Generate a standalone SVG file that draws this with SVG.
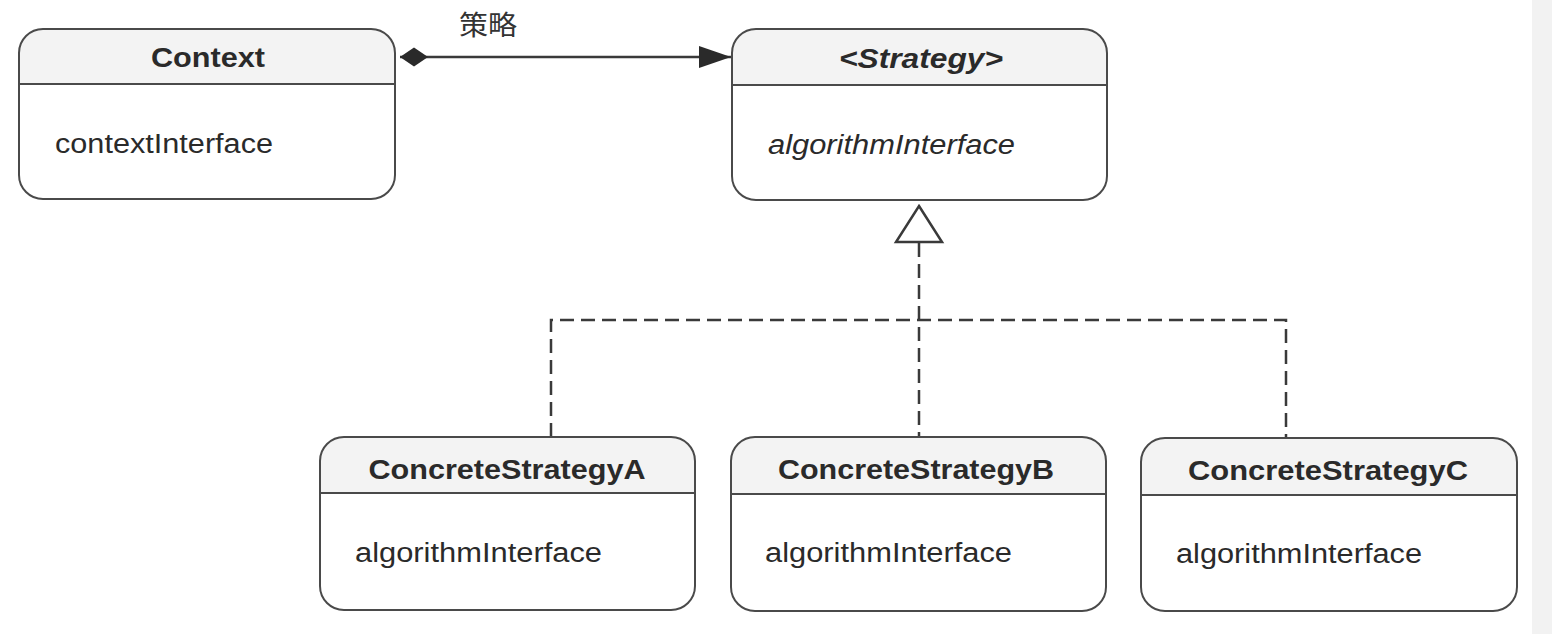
<svg xmlns="http://www.w3.org/2000/svg" width="1552" height="634" viewBox="0 0 1552 634">
<defs>
<style>
.box{fill:none;stroke:#4a4a4a;stroke-width:2}
.hdr{fill:#f3f3f3}
.div{stroke:#4a4a4a;stroke-width:2}
.title{font-family:"Liberation Sans",Arial,sans-serif;font-weight:bold;font-size:27px;fill:#2a2a2a}
.op{font-family:"Liberation Sans",Arial,sans-serif;font-size:27px;fill:#2a2a2a}
.it{font-style:italic}
.dash{fill:none;stroke:#3a3a3a;stroke-width:2.5;stroke-dasharray:14 7}
.solid{fill:none;stroke:#3a3a3a;stroke-width:2.5}
.lbl{font-family:"Noto Sans CJK SC",sans-serif;font-size:27px;fill:#333333}
</style>
<marker id="diamond" viewBox="0 0 30 20" refX="0" refY="10" markerWidth="30" markerHeight="20" markerUnits="userSpaceOnUse" orient="auto">
<path d="M0,10 L14,0.5 L28,10 L14,19.5 Z" fill="#2a2a2a"/>
</marker>
<marker id="arrow" viewBox="0 0 32 22" refX="32" refY="11" markerWidth="32" markerHeight="22" markerUnits="userSpaceOnUse" orient="auto">
<path d="M0,0 L32,11 L0,22 Z" fill="#2a2a2a"/>
</marker>
</defs>
<rect width="1552" height="634" fill="#ffffff"/>
<rect x="1532" y="0" width="20" height="634" fill="#f2f2f2"/>

<g id="connectors">
<path class="solid" d="M400,57 L731,57" marker-start="url(#diamond)" marker-end="url(#arrow)"/>
<text class="lbl" x="459" y="35" textLength="58" lengthAdjust="spacingAndGlyphs">策略</text>
<path class="dash" d="M919,243 L919,437"/>
<path class="dash" d="M551,437 L551,320 L1286,320 L1286,438"/>
<path d="M919,206 L942,242 L896,242 Z" fill="#ffffff" stroke="#3a3a3a" stroke-width="2.5"/>
</g>

<g id="context">
<path class="hdr" d="M43,29 L371,29 A24,24 0 0 1 395,53 L395,84 L19,84 L19,53 A24,24 0 0 1 43,29 Z"/>
<rect class="box" x="19" y="29" width="376" height="170" rx="24"/>
<line class="div" x1="19" y1="84" x2="395" y2="84"/>
<text class="title" x="208" y="67" text-anchor="middle" textLength="114" lengthAdjust="spacingAndGlyphs">Context</text>
<text class="op" x="55" y="153" textLength="218" lengthAdjust="spacingAndGlyphs">contextInterface</text>
</g>

<g id="strategy">
<path class="hdr" d="M756,29 L1083,29 A24,24 0 0 1 1107,53 L1107,85 L732,85 L732,53 A24,24 0 0 1 756,29 Z"/>
<rect class="box" x="732" y="29" width="375" height="171" rx="24"/>
<line class="div" x1="732" y1="85" x2="1107" y2="85"/>
<text class="title it" x="921" y="68" text-anchor="middle" textLength="164" lengthAdjust="spacingAndGlyphs">&lt;Strategy&gt;</text>
<text class="op it" x="768" y="154" textLength="247" lengthAdjust="spacingAndGlyphs">algorithmInterface</text>
</g>

<g id="concreteA">
<path class="hdr" d="M344,437 L671,437 A24,24 0 0 1 695,461 L695,493 L320,493 L320,461 A24,24 0 0 1 344,437 Z"/>
<rect class="box" x="320" y="437" width="375" height="173" rx="24"/>
<line class="div" x1="320" y1="493" x2="695" y2="493"/>
<text class="title" x="507" y="479" text-anchor="middle" textLength="277" lengthAdjust="spacingAndGlyphs">ConcreteStrategyA</text>
<text class="op" x="355" y="562" textLength="247" lengthAdjust="spacingAndGlyphs">algorithmInterface</text>
</g>

<g id="concreteB">
<path class="hdr" d="M755,437 L1082,437 A24,24 0 0 1 1106,461 L1106,494 L731,494 L731,461 A24,24 0 0 1 755,437 Z"/>
<rect class="box" x="731" y="437" width="375" height="174" rx="24"/>
<line class="div" x1="731" y1="494" x2="1106" y2="494"/>
<text class="title" x="916" y="479" text-anchor="middle" textLength="276" lengthAdjust="spacingAndGlyphs">ConcreteStrategyB</text>
<text class="op" x="765" y="562" textLength="247" lengthAdjust="spacingAndGlyphs">algorithmInterface</text>
</g>

<g id="concreteC">
<path class="hdr" d="M1165,438 L1493,438 A24,24 0 0 1 1517,462 L1517,495 L1141,495 L1141,462 A24,24 0 0 1 1165,438 Z"/>
<rect class="box" x="1141" y="438" width="376" height="173" rx="24"/>
<line class="div" x1="1141" y1="495" x2="1517" y2="495"/>
<text class="title" x="1328" y="480" text-anchor="middle" textLength="280" lengthAdjust="spacingAndGlyphs">ConcreteStrategyC</text>
<text class="op" x="1176" y="563" textLength="246" lengthAdjust="spacingAndGlyphs">algorithmInterface</text>
</g>
</svg>
